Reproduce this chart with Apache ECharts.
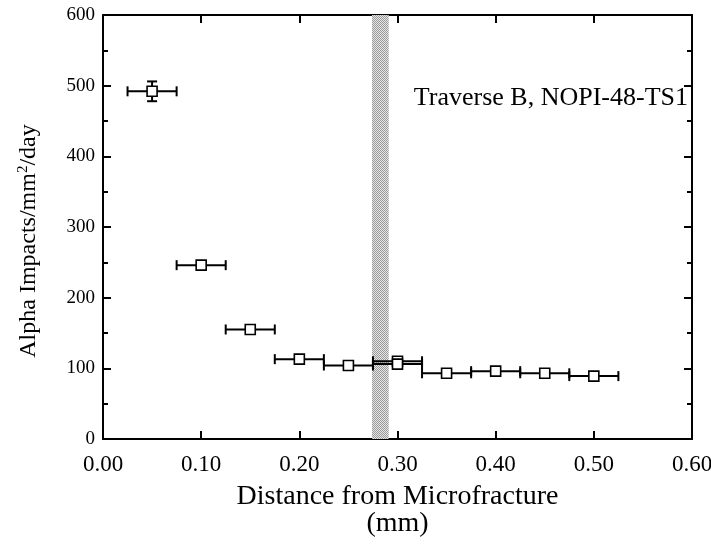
<!DOCTYPE html>
<html><head><meta charset="utf-8">
<script src="https://cdn.jsdelivr.net/npm/echarts@6/dist/echarts.min.js"></script>
<style>html,body{margin:0;padding:0;background:#fff}#c{width:711px;height:556px}</style>
</head><body><div id="c"></div>
<script>
// ---- data ----
var xVals = [0.05, 0.10, 0.15, 0.20, 0.25, 0.30, 0.30, 0.35, 0.40, 0.45, 0.50];
var yVals = [492, 246, 155, 113, 104, 110, 106, 93, 96, 93, 89];
var xErr  = [0.025, 0.025, 0.025, 0.025, 0.025, 0.025, 0.025, 0.025, 0.025, 0.025, 0.025];
var yErr  = [14, 4, 4, 3, 3, 3, 3, 3, 3, 3, 3];
var bandRange = [0.274, 0.291];
var xTicks = [0, 0.6, 0.1];
var yTicks = [0, 600, 100];
var annotation = 'Traverse B, NOPI-48-TS1';

var FONT = 'Liberation Serif';
var pts = xVals.map(function(x, i){ return [x, yVals[i], xErr[i], yErr[i]]; });

// halftone pattern for the band
var pc = document.createElement('canvas'); pc.width = 2; pc.height = 2;
var pctx = pc.getContext('2d');
pctx.fillStyle = '#e6e6e6'; pctx.fillRect(0,0,2,2);
pctx.fillStyle = '#9a9a9a'; pctx.fillRect(0,0,1,1); pctx.fillRect(1,1,1,1);

var chart = echarts.init(document.getElementById('c'));
var axisLine = {onZero:false, lineStyle:{color:'#000', width:2}};
var tick = {show:true, inside:true, length:8, lineStyle:{color:'#000', width:2}};
var minorTick = {show:true, splitNumber:2, length:5, lineStyle:{color:'#000', width:2}};

chart.setOption({
  animation:false,
  backgroundColor:'#fff',
  grid:{left:103, right:19, top:15, bottom:117, outerBoundsMode:'none', containLabel:false},
  xAxis:[{
    type:'value', min:xTicks[0], max:xTicks[1], interval:xTicks[2], position:'bottom',
    axisLine:axisLine, axisTick:tick, splitLine:{show:false},
    axisLabel:{color:'#000', fontFamily:FONT, fontSize:23, margin:14, formatter:function(v){return v.toFixed(2);}},
    name:'Distance from Microfracture\n(mm)', nameLocation:'middle', nameGap:44,
    nameTextStyle:{color:'#000', fontFamily:FONT, fontSize:28, lineHeight:27, verticalAlign:'top'}
  },{
    type:'value', min:xTicks[0], max:xTicks[1], interval:xTicks[2], position:'top',
    axisLine:axisLine, axisTick:tick, axisLabel:{show:false}, splitLine:{show:false}
  }],
  yAxis:[{
    type:'value', min:yTicks[0], max:yTicks[1], interval:yTicks[2], position:'left',
    axisLine:axisLine, axisTick:tick, minorTick:minorTick, splitLine:{show:false},
    axisLabel:{color:'#000', fontFamily:FONT, fontSize:19, margin:8},
    name:'Alpha Impacts/mm{sup|2}/day', nameLocation:'middle', nameGap:62, nameRotate:90,
    nameTextStyle:{color:'#000', fontFamily:FONT, fontSize:24, padding:[0,28,0,0],
      rich:{sup:{fontFamily:FONT, fontSize:15, verticalAlign:'top', padding:[0,0,10,0]}}}
  },{
    type:'value', min:yTicks[0], max:yTicks[1], interval:yTicks[2], position:'right',
    axisLine:axisLine, axisTick:tick, minorTick:minorTick, axisLabel:{show:false}, splitLine:{show:false}
  }],
  graphic:[{
    type:'text', right:23, top:85,
    style:{text:annotation, fill:'#000', font:'26px "Liberation Serif"'}
  }],
  series:[{
    type:'custom', xAxisIndex:0, yAxisIndex:0, data:pts, z:3,
    renderItem:function(params, api){
      var x = api.value(0), y = api.value(1), xe = api.value(2), ye = api.value(3);
      var a = api.coord([x - xe, y]), b = api.coord([x + xe, y]);
      var c = api.coord([x, y - ye]), d = api.coord([x, y + ye]);
      var st = {stroke:'#000', lineWidth:2};
      var cap = 5;
      var ch = [
        {type:'line', shape:{x1:a[0], y1:a[1], x2:b[0], y2:b[1]}, style:st},
        {type:'line', shape:{x1:a[0], y1:a[1]-cap, x2:a[0], y2:a[1]+cap}, style:st},
        {type:'line', shape:{x1:b[0], y1:b[1]-cap, x2:b[0], y2:b[1]+cap}, style:st},
        {type:'line', shape:{x1:c[0], y1:c[1], x2:d[0], y2:d[1]}, style:st},
        {type:'line', shape:{x1:c[0]-cap, y1:c[1], x2:c[0]+cap, y2:c[1]}, style:st},
        {type:'line', shape:{x1:d[0]-cap, y1:d[1], x2:d[0]+cap, y2:d[1]}, style:st}
      ];
      return {type:'group', children:ch};
    }
  },{
    type:'scatter', xAxisIndex:0, yAxisIndex:0, z:4,
    data:pts.map(function(p){return [p[0], p[1]];}),
    symbol:'rect', symbolSize:10,
    itemStyle:{color:'#fff', borderColor:'#000', borderWidth:1.6, opacity:1},
    markArea:{silent:true, itemStyle:{color:{image:pc, repeat:'repeat'}, opacity:1},
      data:[[{xAxis:bandRange[0]},{xAxis:bandRange[1]}]]}
  }]
});
</script></body></html>
